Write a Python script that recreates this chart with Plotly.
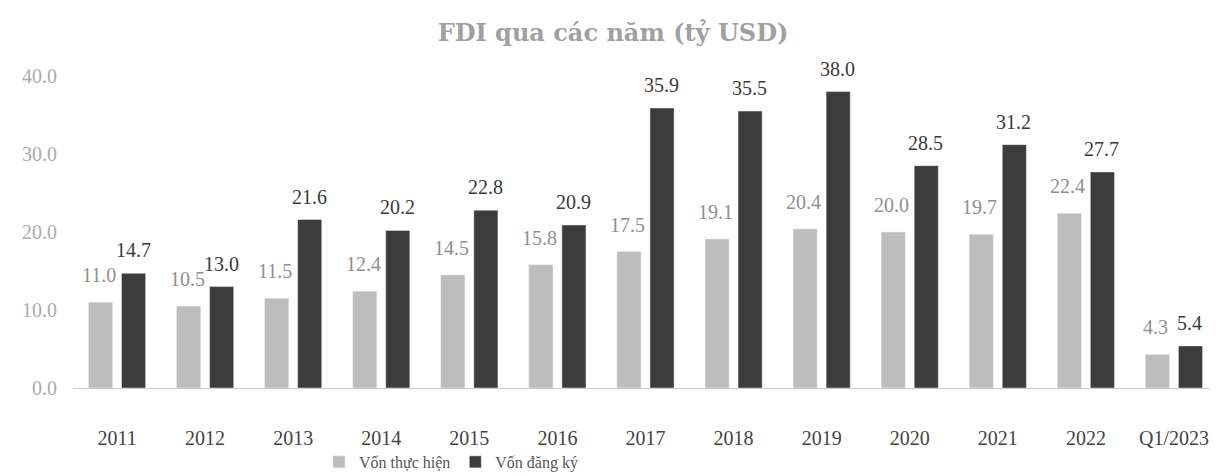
import plotly.graph_objects as go

categories = ["2011", "2012", "2013", "2014", "2015", "2016", "2017", "2018", "2019", "2020", "2021", "2022", "Q1/2023"]
von_thuc_hien = [11.0, 10.5, 11.5, 12.4, 14.5, 15.8, 17.5, 19.1, 20.4, 20.0, 19.7, 22.4, 4.3]
von_dang_ky = [14.7, 13.0, 21.6, 20.2, 22.8, 20.9, 35.9, 35.5, 38.0, 28.5, 31.2, 27.7, 5.4]
y_ticks = [0, 10, 20, 30, 40]

FONT = "Liberation Serif, Times New Roman, serif"

fig = go.Figure()
fig.add_trace(go.Bar(name="Vốn thực hiện", x=categories, y=von_thuc_hien, marker=dict(color="#bdbdbd")))
fig.add_trace(go.Bar(name="Vốn đăng ký", x=categories, y=von_dang_ky, marker=dict(color="#3c3c3c")))

# data labels placed above each bar (category index on the category axis)
for i, v in enumerate(von_thuc_hien):
    fig.add_annotation(x=i, y=v, xref="x", yref="y", text=f"{v:.1f}", showarrow=False,
                       xshift=-18, yshift=14, yanchor="bottom",
                       font=dict(family=FONT, size=20, color="#8f8f8f"))
for i, v in enumerate(von_dang_ky):
    fig.add_annotation(x=i, y=v, xref="x", yref="y", text=f"{v:.1f}", showarrow=False,
                       xshift=16, yshift=10, yanchor="bottom",
                       font=dict(family=FONT, size=20, color="#3a3a3a"))

fig.update_layout(
    width=1210, height=468,
    margin=dict(l=65, r=0, t=68, b=88, autoexpand=False),
    paper_bgcolor="white", plot_bgcolor="white",
    barmode="group", bargap=0.25, bargroupgap=0.27,
    title=dict(text="<b>FDI qua các năm (tỷ USD)</b>", x=0.5, xanchor="center",
               yref="container", y=0.947, yanchor="middle",
               font=dict(family="DejaVu Serif, serif", size=24, color="#a0a0a0")),
    font=dict(family=FONT),
    showlegend=True,
    legend=dict(orientation="h", xref="container", x=0.257, xanchor="left",
                yref="container", y=0.03, yanchor="middle",
                font=dict(family=FONT, size=16, color="#555555"), traceorder="normal"),
    xaxis=dict(type="category", range=[-0.5, len(categories) - 0.5], showline=True,
               linecolor="#cccccc", linewidth=1, ticks="",
               automargin=False, ticklabelstandoff=32,
               tickfont=dict(family=FONT, size=20, color="#444444"), showgrid=False),
    yaxis=dict(range=[0, 40], tickvals=y_ticks, tickformat=".1f", showgrid=False, zeroline=False,
               automargin=False, showline=False, tickfont=dict(family=FONT, size=20, color="#ababab"),
               ticklabelstandoff=15),
)

fig.write_html("out.html")
